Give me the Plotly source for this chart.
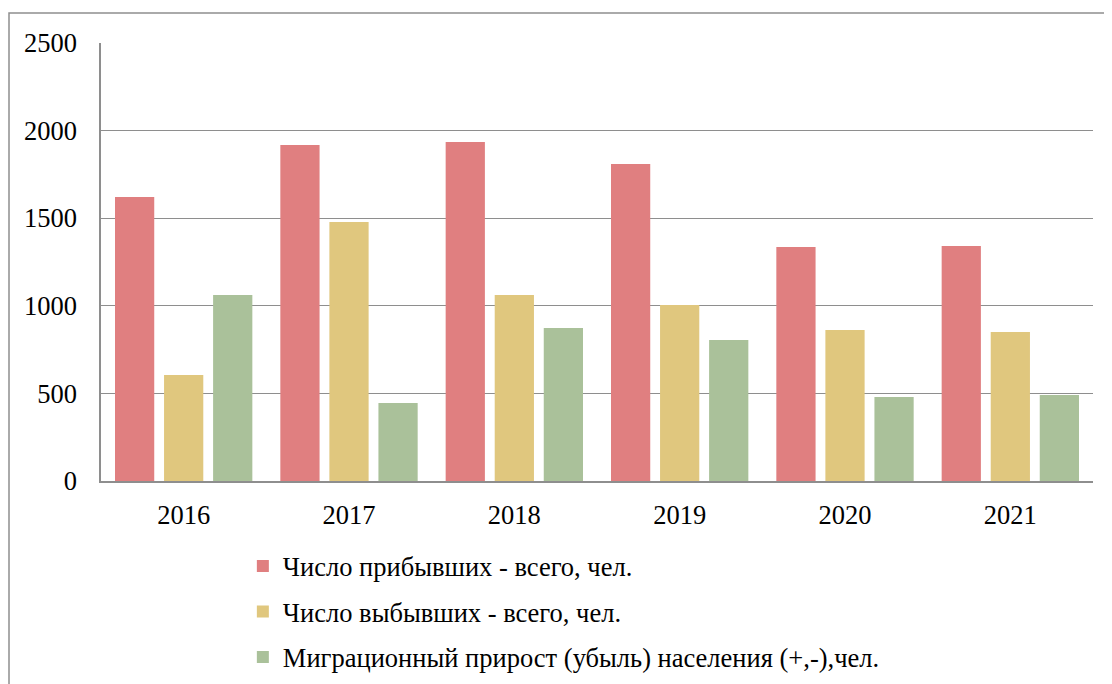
import plotly.graph_objects as go

years = ["2016", "2017", "2018", "2019", "2020", "2021"]
arrived = [1621, 1918, 1935, 1809, 1336, 1341]
departed = [605, 1478, 1062, 1005, 862, 850]
migration = [1062, 445, 873, 805, 479, 491]

names = [
    "Число прибывших - всего, чел.",
    "Число выбывших - всего, чел.",
    "Миграционный прирост (убыль) населения (+,-),чел.",
]
colors = ["#E07F80", "#E0C77E", "#AAC19A"]
series = [arrived, departed, migration]

fig = go.Figure()
for i, (n, c, s) in enumerate(zip(names, colors, series)):
    fig.add_trace(go.Bar(x=years, y=s, name=n, marker_color=c,
                         marker_line_width=0, legendgroup=str(i)))

FONT = "Liberation Serif, Times New Roman, serif"
FS = 26.5
W, H = 1104, 676
L, T, R, B = 93, 35, 19, 203
PW, PH = W - L - R, H - T - B
fig.update_layout(
    width=W, height=H,
    margin=dict(l=L, r=R, t=T, b=B, autoexpand=False),
    paper_bgcolor="white", plot_bgcolor="white",
    font=dict(family=FONT, size=FS, color="black"),
    barmode="group", bargap=0.11, bargroupgap=0.2,
    showlegend=True,
    legend=dict(x=0.143, y=-0.14, xanchor="left", yanchor="top",
                orientation="v", traceorder="grouped", tracegroupgap=8,
                font=dict(family=FONT, size=FS), bgcolor="rgba(0,0,0,0)"),
    xaxis=dict(showgrid=False, showline=True, linecolor="#8E8E8E", linewidth=1.5,
               ticks="", ticklabelstandoff=9, tickfont=dict(size=FS),
               automargin=False),
    yaxis=dict(range=[0, 2500], tickvals=[0, 500, 1000, 1500, 2000, 2500],
               showgrid=True, gridcolor="#8E8E8E", gridwidth=1.2,
               showline=True, linecolor="#8E8E8E", linewidth=1.5,
               zeroline=False, ticks="", ticklabelstandoff=17,
               tickfont=dict(size=FS), automargin=False),
    shapes=[dict(type="rect", xref="paper", yref="paper",
                 x0=(1 - L) / PW, x1=1.2, y0=-0.6, y1=(PH + T - 5) / PH,
                 line=dict(color="#8E8E8E", width=1.5), layer="below")],
)

fig.write_html("out.html")
